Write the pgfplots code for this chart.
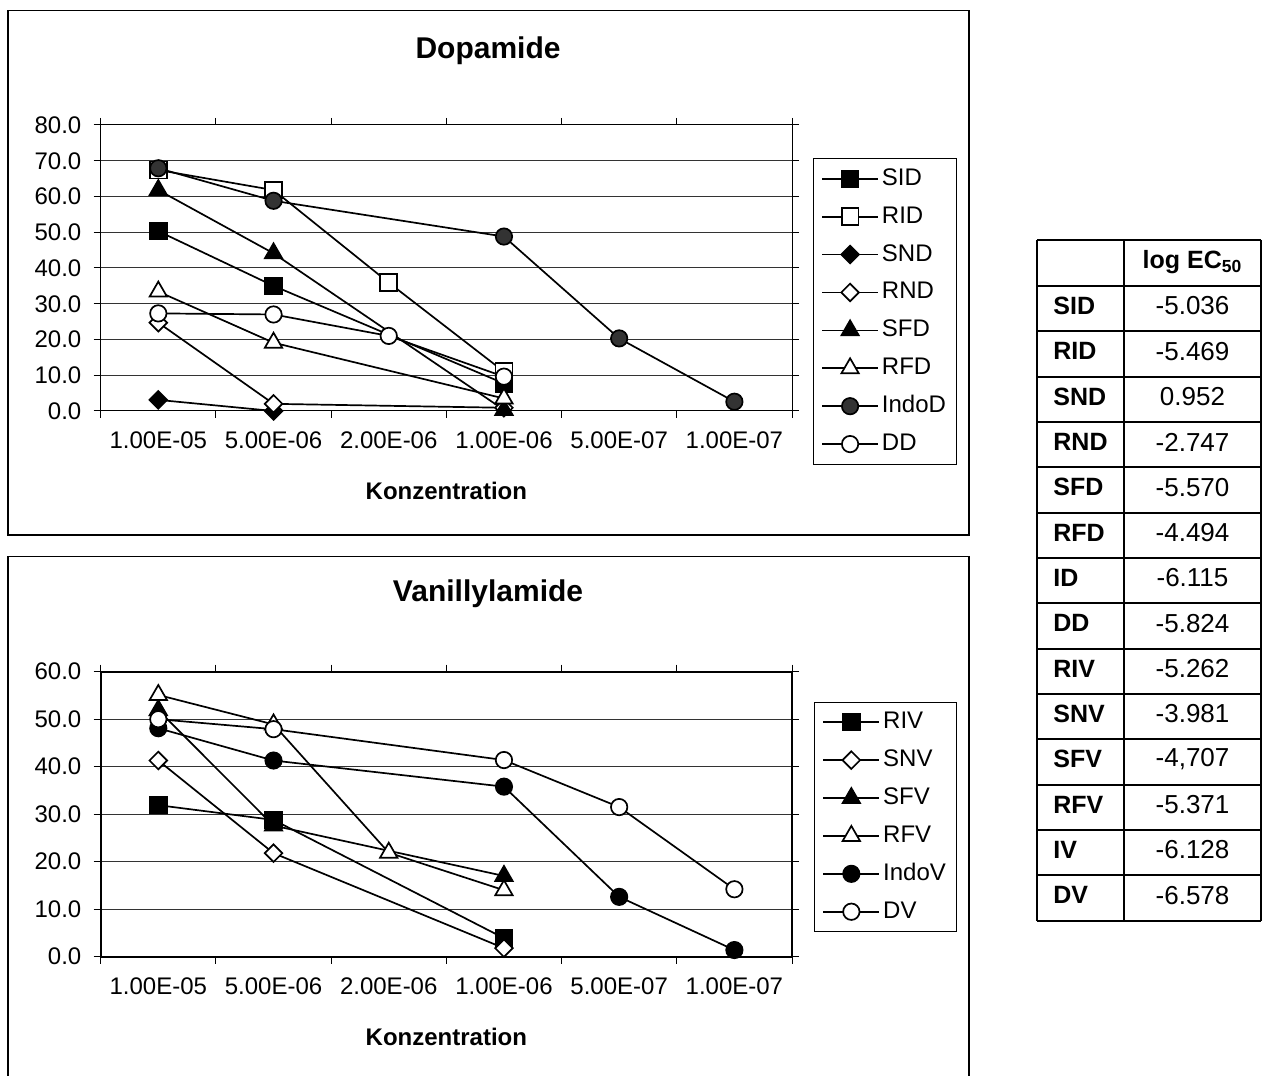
\documentclass[border=0pt]{standalone}
\usepackage{pgfplots}
\pgfplotsset{compat=1.18}
\usepackage{fontspec}
\setmainfont{Liberation Sans}
\definecolor{indod}{HTML}{333333}

\pgfdeclareplotmark{sqdiamond*}{%
  \pgfpathmoveto{\pgfqpoint{0pt}{\pgfplotmarksize}}%
  \pgfpathlineto{\pgfqpoint{\pgfplotmarksize}{0pt}}%
  \pgfpathlineto{\pgfqpoint{0pt}{-\pgfplotmarksize}}%
  \pgfpathlineto{\pgfqpoint{-\pgfplotmarksize}{0pt}}%
  \pgfpathclose
  \pgfusepathqfillstroke}

\pgfplotsset{
  excel/.style={
    scale only axis,
    width=345.65pt,
    xmin=0, xmax=6, ymin=0,
    xtick={0.5,1.5,2.5,3.5,4.5,5.5},
    xticklabels={1.00E-05,5.00E-06,2.00E-06,1.00E-06,5.00E-07,1.00E-07},
    minor xtick={0,1,2,3,4,5,6},
    major x tick style={draw=none},
    minor x tick style={black, line width=0.5pt},
    y tick style={black, line width=0.5pt},
    tick align=outside,
    major tick length=3.5pt, minor tick length=3.5pt,
    ymajorgrids,
    major grid style={line width=0.5pt, black!80},
    /pgf/number format/assume math mode=true,
    yticklabel style={/pgf/number format/fixed, /pgf/number format/fixed zerofill, /pgf/number format/precision=1, anchor=east, inner sep=0pt, xshift=-6pt},
    xticklabel style={anchor=base, inner sep=0pt, yshift=-15.5pt},
    tick label style={font=\fontsize{12}{14}\selectfont},
    every axis plot/.append style={line width=0.85pt, black, mark options={solid, line width=0.7pt, draw=black}},
    legend image code/.code={\draw[#1, mark repeat=2, mark phase=2] plot coordinates {(0pt,0pt) (14pt,0pt) (28pt,0pt)};},
    legend cell align=left,
    legend style={anchor=north west, draw=black, line width=0.5pt, font=\fontsize{12}{14}\selectfont,
      inner xsep=4pt, inner ysep=4.25pt, row sep=7.45pt,
      nodes={inner xsep=1.5pt, inner ysep=0pt, text height=9pt, text depth=2.5pt}},
    title style={anchor=center, yshift=0pt, font=\fontsize{15}{18}\selectfont\bfseries},
    xlabel style={anchor=center, font=\fontsize{12}{14}\selectfont\bfseries},
  },
  sq/.style={mark=square*, mark size=4.2pt},
  di/.style={mark=sqdiamond*, mark size=4.4pt},
  tr/.style={mark=triangle*, mark size=5pt},
  ci/.style={mark=*, mark size=4.1pt},
}

\begin{document}
\begin{tikzpicture}
\useasboundingbox (0pt,0pt) rectangle (631pt,537.5pt);
% chart frames (1 unit = 1 px of the reference)
\begin{scope}[x=0.5pt,y=0.5pt]
\draw[line width=0.6pt] (8,1064.3) rectangle (969,540);
\draw[line width=0.6pt] (8,-10) -- (8,518.3) -- (969,518.3) -- (969,-10);
\end{scope}

% ---------- Dopamide ----------
\begin{axis}[excel,
  at={(50.35pt,332pt)}, anchor=south west,
  height=143pt, ymax=80, ytick={0,10,...,80},
  axis line style={line width=0.5pt, black},
  title={Dopamide}, title style={at={(0.5603,1.2165)}},
  xlabel={Konzentration}, xlabel style={at={(0.5,-0.2797)}},
  legend style={at={(1.03,0.8836)}},
]
\addplot[sq, mark options={fill=black}] coordinates {(0.5,50.3) (1.5,35.0) (3.5,7.7)};
\addlegendentry{SID}
\addplot[sq, mark options={fill=white}] coordinates {(0.5,67.4) (1.5,61.8) (2.5,35.9) (3.5,11.0)};
\addlegendentry{RID}
\addplot[di, mark options={fill=black}] coordinates {(0.5,3.1) (1.5,0.0)};
\addlegendentry{SND}
\addplot[di, mark options={fill=white}] coordinates {(0.5,24.7) (1.5,2.0) (3.5,0.9)};
\addlegendentry{RND}
\addplot[tr, mark options={fill=black}] coordinates {(0.5,61.8) (1.5,44.1) (3.5,0.3)};
\addlegendentry{SFD}
\addplot[tr, mark options={fill=white}] coordinates {(0.5,33.4) (1.5,19.1) (3.5,3.5)};
\addlegendentry{RFD}
\addplot[ci, mark options={fill=indod}] coordinates {(0.5,67.9) (1.5,58.8) (3.5,48.8) (4.5,20.3) (5.5,2.6)};
\addlegendentry{IndoD}
\addplot[ci, mark options={fill=white}] coordinates {(0.5,27.3) (1.5,27.0) (2.5,21.0) (3.5,9.6)};
\addlegendentry{DD}
\end{axis}

% ---------- Vanillylamide ----------
\begin{axis}[excel,
  at={(50.35pt,59.15pt)}, anchor=south west,
  height=142.5pt, ymax=60, ytick={0,10,...,60},
  axis line style={line width=1pt, black},
  title={Vanillylamide}, title style={at={(0.5603,1.23)}},
  xlabel={Konzentration}, xlabel style={at={(0.5,-0.2818)}},
  legend style={at={(1.0318,0.8947)}},
]
\addplot[sq, mark options={fill=black}] coordinates {(0.5,31.9) (1.5,28.8) (3.5,3.9)};
\addlegendentry{RIV}
\addplot[di, mark options={fill=white}] coordinates {(0.5,41.3) (1.5,21.8) (3.5,1.8)};
\addlegendentry{SNV}
\addplot[tr, mark options={fill=black}] coordinates {(0.5,51.9) (1.5,27.6) (3.5,17.0)};
\addlegendentry{SFV}
\addplot[tr, mark options={fill=white}] coordinates {(0.5,55.1) (1.5,48.9) (2.5,21.9) (3.5,14.0)};
\addlegendentry{RFV}
\addplot[ci, mark options={fill=black}] coordinates {(0.5,48.1) (1.5,41.3) (3.5,35.8) (4.5,12.6) (5.5,1.4)};
\addlegendentry{IndoV}
\addplot[ci, mark options={fill=white}] coordinates {(0.5,50.0) (1.5,47.9) (3.5,41.4) (4.5,31.5) (5.5,14.2)};
\addlegendentry{DV}
\end{axis}

% ---------- table ----------
\begin{scope}[x=0.5pt,y=0.5pt]
\begin{scope}[line width=1pt]
\draw (1037.3,835) -- (1260.7,835);
\foreach \k in {0,...,14} {\draw (1037.3,{789-45.333*\k}) -- (1260.7,{789-45.333*\k});}
\draw (1037.3,835) -- (1037.3,154.33);
\draw (1124.3,835) -- (1124.3,154.33);
\draw (1260.7,835) -- (1260.7,154.33);
\end{scope}
\node[font=\fontsize{12.5}{15}\selectfont\bfseries] at (1192.5,813) {log EC\textsubscript{50}};
\foreach \lab/\val [count=\i from 0] in {SID/-5.036,RID/-5.469,SND/0.952,RND/-2.747,SFD/-5.570,RFD/-4.494,ID/-6.115,DD/-5.824,RIV/-5.262,SNV/-3.981,SFV/{-4,707},RFV/-5.371,IV/-6.128,DV/-6.578} {
  \node[anchor=west, inner sep=0pt, font=\fontsize{12.5}{15}\selectfont\bfseries] at (1053,{769-45.333*\i}) {\lab};
  \node[inner sep=0pt, font=\fontsize{13}{15}\selectfont] at (1192.5,{769-45.333*\i}) {\val};
}
\end{scope}
\end{tikzpicture}
\end{document}
